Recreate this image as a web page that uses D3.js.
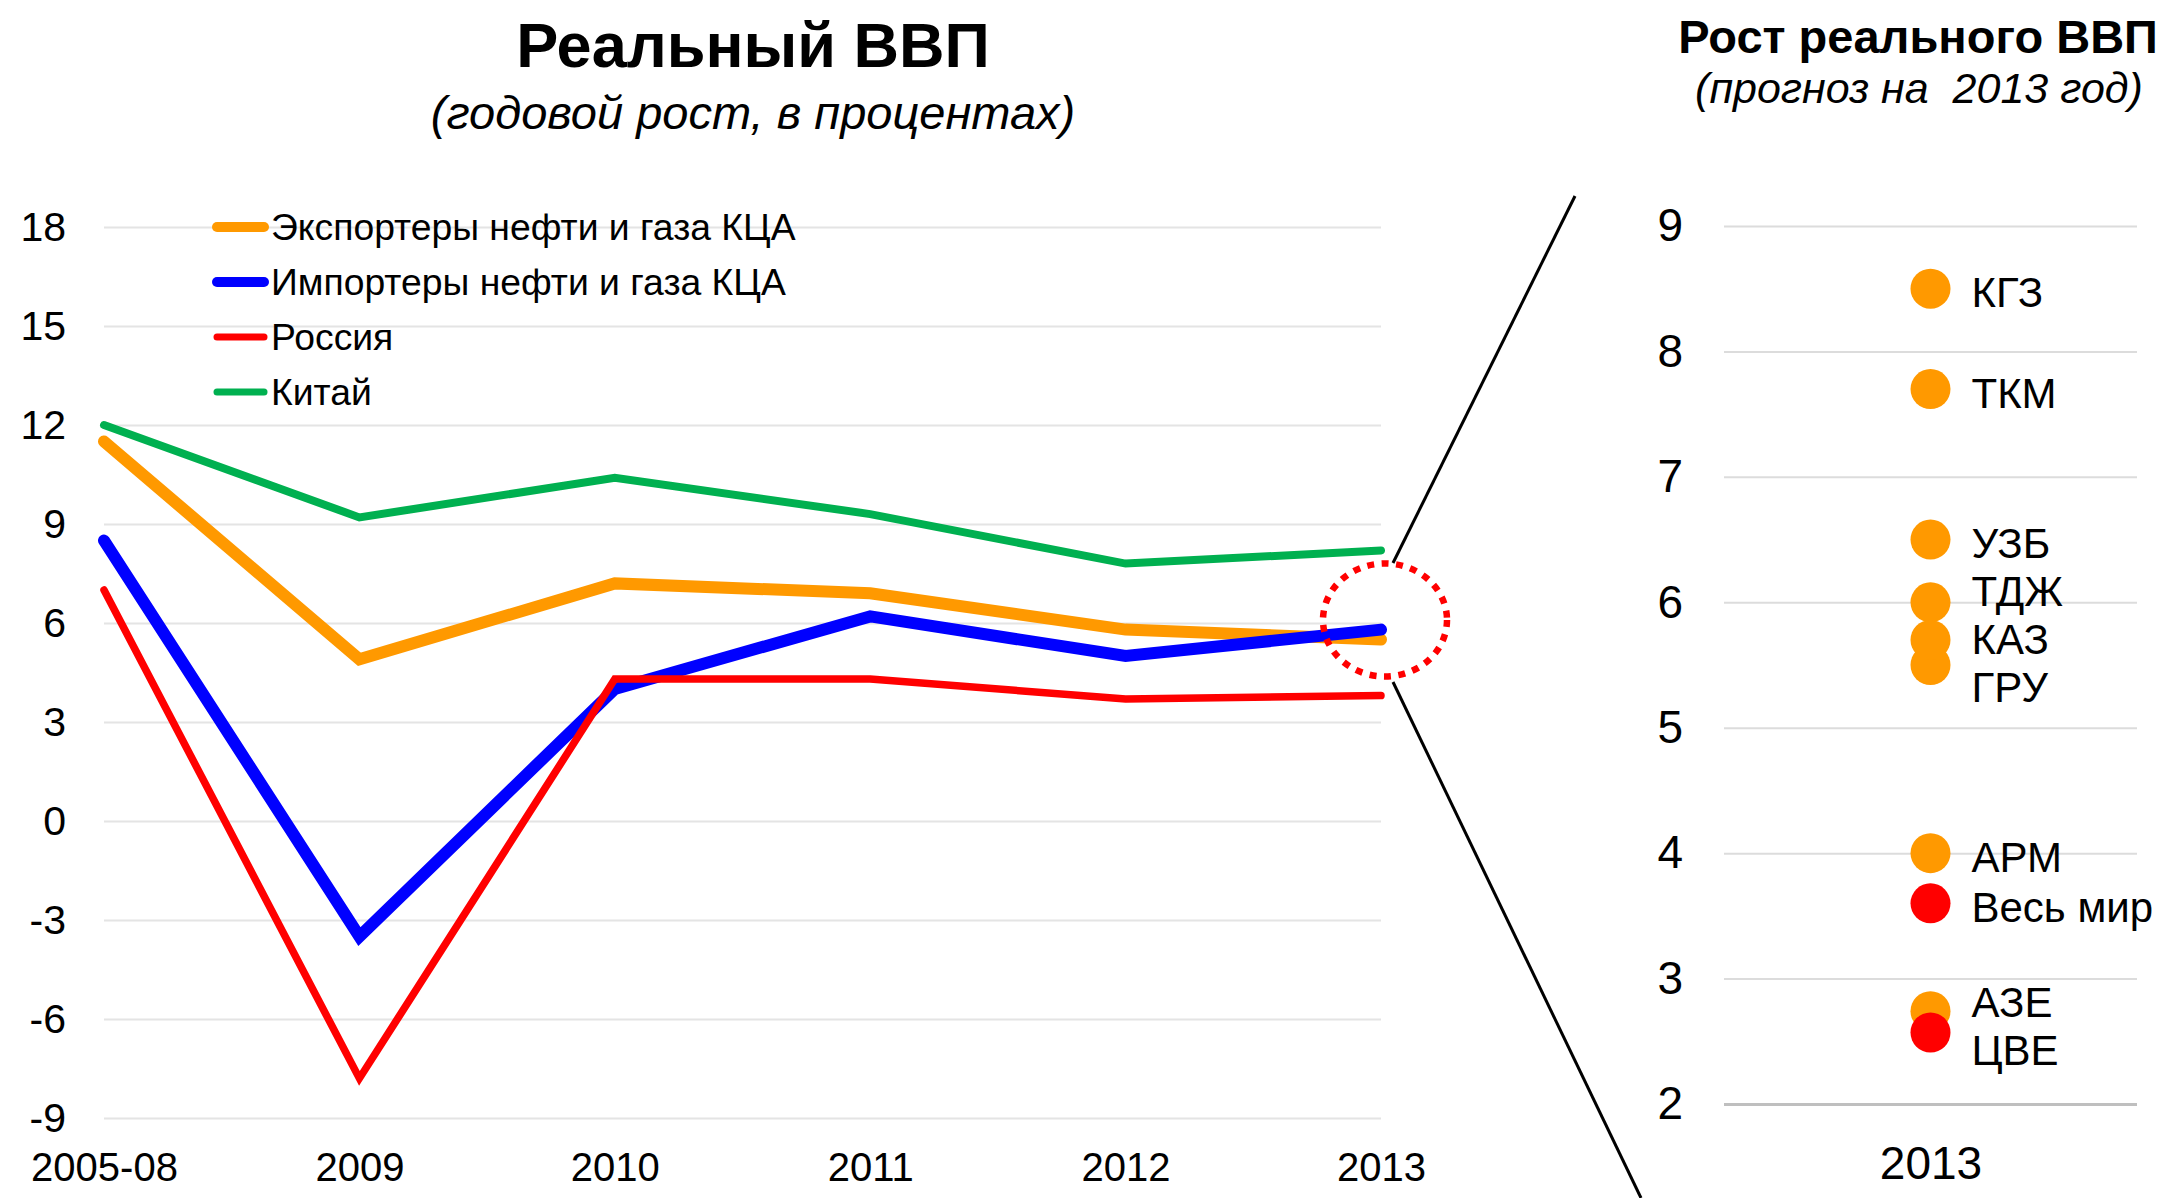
<!DOCTYPE html>
<html>
<head>
<meta charset="utf-8">
<script src="https://cdn.jsdelivr.net/npm/d3@7"></script>
<style>
  html, body { margin: 0; padding: 0; background: #fff; }
  svg { display: block; font-family: "Liberation Sans", Arial, Helvetica, sans-serif; }
  svg text { font-family: "Liberation Sans", Arial, Helvetica, sans-serif; }
  .axis .domain { display: none; }
</style>
</head>
<body>
<svg id="chart" width="2166" height="1198"></svg>
<script>
// ---------------- DATA ----------------
const categories = ["2005-08", "2009", "2010", "2011", "2012", "2013"];
const seriesNames = ["Экспортеры нефти и газа КЦА", "Импортеры нефти и газа КЦА", "Россия", "Китай"];
const exporters = [11.5, 4.9, 7.2, 6.9, 5.8, 5.5];
const importers = [8.5, -3.5, 4.0, 6.2, 5.0, 5.8];
const russia    = [7.0, -7.8, 4.3, 4.3, 3.7, 3.8];
const china     = [12.0, 9.2, 10.4, 9.3, 7.8, 8.2];
const leftTicks = [18, 15, 12, 9, 6, 3, 0, -3, -6, -9];

const forecastYear = ["2013"];
const countries  = ["КГЗ", "ТКМ", "УЗБ", "ТДЖ", "ГРУ", "КАЗ", "АРМ", "АЗЕ", "Весь мир", "ЦВЕ"];
const growth2013 = [8.5, 7.7, 6.5, 6.0, 5.5, 5.7, 4.0, 2.74, 3.6, 2.57];
const groupOf    = ["КЦА", "КЦА", "КЦА", "КЦА", "КЦА", "КЦА", "КЦА", "КЦА", "Сравнение", "Сравнение"];
const rightTicks = [9, 8, 7, 6, 5, 4, 3, 2];

// ---------------- STYLE ----------------
const seriesColors = ["#ff9900", "#0000ff", "#ff0000", "#00b050"];
const seriesWidths = [12, 12, 7.5, 8];
const legendWidths = [10, 10, 7, 7];
const groupColors = { "КЦА": "#ff9900", "Сравнение": "#ff0000" };
const gridColor = "#e4e4e4";
const plainNum = d => String(d);

const svg = d3.select("#chart");

// ---------------- LEFT CHART ----------------
const xL = d3.scalePoint().domain(categories).range([104, 1381]);
const yL = d3.scaleLinear().domain([-9, 18]).range([1118, 227]);

svg.append("text").attr("x", 753).attr("y", 67).attr("text-anchor", "middle")
  .attr("font-size", 63).attr("font-weight", "bold").text("Реальный ВВП");
svg.append("text").attr("x", 753).attr("y", 129).attr("text-anchor", "middle")
  .attr("font-size", 47).attr("font-style", "italic").text("(годовой рост, в процентах)");

const gyL = svg.append("g").attr("class", "axis").attr("transform", "translate(104,0)")
  .call(d3.axisLeft(yL).tickValues(leftTicks).tickSize(-(1381 - 104)).tickPadding(38).tickFormat(plainNum));
gyL.selectAll(".tick line").attr("stroke", gridColor).attr("stroke-width", 2);
gyL.selectAll(".tick text").attr("font-size", 41).attr("fill", "#000")
  .attr("font-family", "Liberation Sans, Arial, sans-serif");

const gxL = svg.append("g").attr("class", "axis").attr("transform", "translate(0,1118)")
  .call(d3.axisBottom(xL).tickSize(0).tickPadding(35));
gxL.selectAll(".tick text").attr("font-size", 40).attr("fill", "#000")
  .attr("font-family", "Liberation Sans, Arial, sans-serif");

const allSeries = [exporters, importers, russia, china];
const line = d3.line().x((d, i) => xL(categories[i])).y(d => yL(d));
allSeries.forEach((s, k) => {
  svg.append("path").datum(s).attr("d", line).attr("fill", "none")
    .attr("stroke", seriesColors[k]).attr("stroke-width", seriesWidths[k])
    .attr("stroke-linejoin", "miter").attr("stroke-linecap", "round");
});

// legend
const legendY = d3.scalePoint().domain(seriesNames).range([227, 392]);
seriesNames.forEach((name, k) => {
  const y = legendY(name);
  svg.append("line").attr("x1", 217).attr("x2", 264).attr("y1", y).attr("y2", y)
    .attr("stroke", seriesColors[k]).attr("stroke-width", legendWidths[k]).attr("stroke-linecap", "round");
  svg.append("text").attr("x", 271).attr("y", y).attr("dy", "0.35em")
    .attr("font-size", 37.3).text(name);
});

// highlight ellipse and connector lines
svg.append("ellipse").attr("cx", 1385).attr("cy", 620).attr("rx", 62).attr("ry", 56.5)
  .attr("fill", "none").attr("stroke", "#ff0000").attr("stroke-width", 6.5).attr("stroke-dasharray", "7,7.5");
svg.append("line").attr("x1", 1393).attr("y1", 563).attr("x2", 1575).attr("y2", 196)
  .attr("stroke", "#000").attr("stroke-width", 3);
svg.append("line").attr("x1", 1393).attr("y1", 682).attr("x2", 1641).attr("y2", 1198)
  .attr("stroke", "#000").attr("stroke-width", 3);

// ---------------- RIGHT CHART ----------------
const xR = d3.scalePoint().domain(forecastYear).range([1724, 2137]).padding(0.5);
const yR = d3.scaleLinear().domain([2, 9]).range([1104, 226]);

svg.append("text").attr("x", 1918).attr("y", 53).attr("text-anchor", "middle")
  .attr("font-size", 47).attr("font-weight", "bold").text("Рост реального ВВП");
svg.append("text").attr("x", 1919).attr("y", 103).attr("text-anchor", "middle")
  .attr("font-size", 43).attr("font-style", "italic").style("white-space", "pre")
  .text("(прогноз на  2013 год)");

const gyR = svg.append("g").attr("class", "axis").attr("transform", "translate(1724,0)")
  .call(d3.axisLeft(yR).tickValues(rightTicks).tickSize(-(2137 - 1724)).tickPadding(41).tickFormat(plainNum));
gyR.selectAll(".tick line").attr("stroke", d => d === 2 ? "#bfbfbf" : "#dcdcdc").attr("stroke-width", d => d === 2 ? 3 : 2);
gyR.selectAll(".tick text").attr("font-size", 46).attr("fill", "#000")
  .attr("font-family", "Liberation Sans, Arial, sans-serif");

const gxR = svg.append("g").attr("class", "axis").attr("transform", "translate(0,1104)")
  .call(d3.axisBottom(xR).tickSize(0).tickPadding(42));
gxR.selectAll(".tick text").attr("font-size", 46).attr("fill", "#000")
  .attr("font-family", "Liberation Sans, Arial, sans-serif");

const pts = countries.map((c, i) => ({ name: c, v: growth2013[i], g: groupOf[i] }));
const cx = xR("2013");
svg.append("g").selectAll("circle").data(pts).join("circle")
  .attr("cx", cx).attr("cy", d => yR(d.v)).attr("r", 20)
  .attr("fill", d => groupColors[d.g]);

// label layout: start at dot, push apart to avoid overlaps
const lab = pts.map(d => ({ name: d.name, y: yR(d.v) })).sort((a, b) => a.y - b.y);
const gap = 48;
for (let it = 0; it < 300; it++) {
  for (let i = 1; i < lab.length; i++) {
    const diff = lab[i].y - lab[i - 1].y;
    if (diff < gap) {
      const push = (gap - diff) / 2;
      lab[i].y += push; lab[i - 1].y -= push;
    }
  }
}
svg.append("g").selectAll("text").data(lab).join("text")
  .attr("x", cx + 41).attr("y", d => d.y + 4).attr("dy", "0.35em")
  .attr("font-size", 42).text(d => d.name);
</script>
</body>
</html>
